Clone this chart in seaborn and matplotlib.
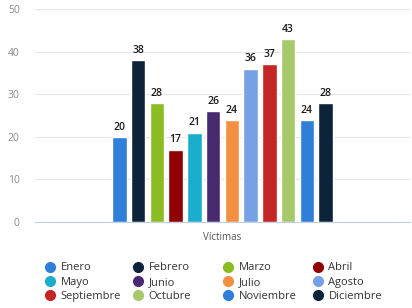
import matplotlib
matplotlib.use("Agg")
import matplotlib.pyplot as plt
import seaborn as sns
import pandas as pd
from matplotlib.lines import Line2D

months = ["Enero", "Febrero", "Marzo", "Abril", "Mayo", "Junio", "Julio",
          "Agosto", "Septiembre", "Octubre", "Noviembre", "Diciembre"]
values = [20, 38, 28, 17, 21, 26, 24, 36, 37, 43, 24, 28]
category = "Víctimas"
colors = ["#2f7ed8", "#0d233a", "#8bbc21", "#910000", "#1aadce", "#492970",
          "#f28f43", "#77a1e5", "#c42525", "#a6c96a", "#2f7ed8", "#0d233a"]
yticks = [0, 10, 20, 30, 40, 50]

df = pd.DataFrame({"cat": [category] * len(months), "mes": months, "val": values})

sns.set_theme(style="white")
plt.rcParams['font.family'] = ['Open Sans', 'DejaVu Sans']

fig = plt.figure(figsize=(4.12, 3.08), dpi=100)
ax = fig.add_axes([0.085, 0.279, 0.91, 0.692])

sns.barplot(data=df, x="cat", y="val", hue="mes", hue_order=months,
            palette=colors, width=0.6, gap=0.22, ax=ax, legend=False,
            saturation=1, errorbar=None)

for cont in ax.containers:
    ax.bar_label(cont, padding=3, fontsize=7.5, color="#1a1a1a", fontweight="semibold")

ax.set_ylim(0, 50)
ax.set_xlim(-0.5, 0.5)
ax.set_yticks(yticks)
ax.tick_params(axis="y", labelsize=7.5, colors="#8a8a8a", length=0, pad=11)
ax.tick_params(axis="x", labelsize=7, colors="#555555", length=0, pad=7)
ax.set_xlabel("")
ax.set_ylabel("")
ax.grid(axis="y", color="#e6e6e6", linewidth=0.8)
ax.set_axisbelow(True)
for s in ["top", "right", "left"]:
    ax.spines[s].set_visible(False)
ax.spines["bottom"].set_color("#c0d0e0")
ax.spines["bottom"].set_linewidth(0.8)

ncols = 4
col_x = [0.108, 0.322, 0.540, 0.758]
for c in range(ncols):
    idx = [c + ncols * r for r in range(3)]
    hs = [Line2D([], [], marker="o", linestyle="", markersize=7,
                 markerfacecolor=colors[i], markeredgecolor=colors[i]) for i in idx]
    fig.legend(hs, [months[i] for i in idx], loc="upper left",
               bbox_to_anchor=(col_x[c], 0.148), frameon=False,
               fontsize=8, labelcolor="#333333", handletextpad=0.45,
               labelspacing=0.3, handlelength=1.0, borderpad=0, borderaxespad=0)

fig.savefig("out.png", dpi=100)
